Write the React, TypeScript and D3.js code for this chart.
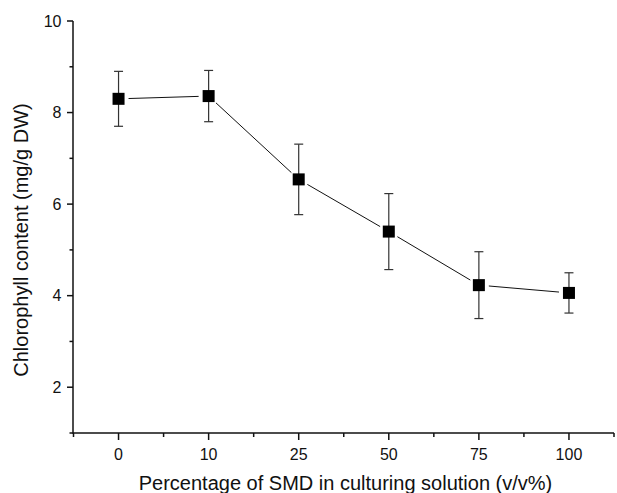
import React from "react";
import * as d3 from "d3";

const categories = ["0", "10", "25", "50", "75", "100"];
const chlorophyll = [8.3, 8.36, 6.54, 5.4, 4.23, 4.06];
const errors = [0.6, 0.56, 0.77, 0.83, 0.73, 0.44];
const yTicks = [2, 4, 6, 8, 10];
const yMinorTicks = [1, 3, 5, 7, 9];

export default function App() {
  const width = 617;
  const height = 493;
  const marginLeft = 73;
  const marginRight = 3;
  const marginTop = 21;
  const marginBottom = 60;
  const font = "Arial, 'Liberation Sans', sans-serif";

  const x = d3
    .scaleLinear()
    .domain([-0.5, categories.length - 0.5])
    .range([marginLeft + 0.5, width - marginRight]);
  const y = d3
    .scaleLinear()
    .domain([1, 10])
    .range([height - marginBottom, marginTop]);

  const bottom = height - marginBottom;
  const pts = chlorophyll.map((v, i) => [x(i), y(v)] as [number, number]);
  const gap = 10;

  // connecting segments stop short of the markers
  const segments = pts.slice(1).map((p, i) => {
    const a = pts[i];
    const dx = p[0] - a[0];
    const dy = p[1] - a[1];
    const len = Math.hypot(dx, dy);
    const ux = dx / len;
    const uy = dy / len;
    return [a[0] + ux * gap, a[1] + uy * gap, p[0] - ux * gap, p[1] - uy * gap];
  });

  const xMinor = d3.range(-0.5, categories.length, 1);

  return (
    <svg
      width={width}
      height={height}
      style={{ position: "absolute", left: 0, top: 0, background: "#fff" }}
    >
      {/* axes */}
      <g stroke="#111" strokeWidth={1.5} fill="none">
        <line x1={marginLeft} x2={marginLeft} y1={marginTop} y2={bottom + 0.75} />
        <line x1={marginLeft} x2={width - marginRight} y1={bottom} y2={bottom} />
        {yTicks.map((t) => (
          <line key={t} x1={marginLeft - 6} x2={marginLeft} y1={y(t)} y2={y(t)} />
        ))}
        {yMinorTicks.map((t) => (
          <line key={t} x1={marginLeft - 3.5} x2={marginLeft} y1={y(t)} y2={y(t)} />
        ))}
        {categories.map((c, i) => (
          <line key={c} x1={x(i)} x2={x(i)} y1={bottom} y2={bottom + 7} />
        ))}
        {xMinor.map((t) => (
          <line key={t} x1={x(t)} x2={x(t)} y1={bottom} y2={bottom + 4} />
        ))}
      </g>
      <g fontFamily={font} fill="#111">
        {yTicks.map((t) => (
          <text key={t} x={marginLeft - 11.5} y={y(t)} dy="0.36em" textAnchor="end" fontSize={16}>
            {t}
          </text>
        ))}
        {categories.map((c, i) => (
          <text key={c} x={x(i)} y={bottom + 27} textAnchor="middle" fontSize={16}>
            {c}
          </text>
        ))}
      </g>
      <text
        x={345.5}
        y={490}
        textAnchor="middle"
        fontFamily={font}
        fontSize={20}
        fill="#111"
      >
        Percentage of SMD in culturing solution (v/v%)
      </text>
      <text
        transform={`translate(28, 240) rotate(-90)`}
        textAnchor="middle"
        fontFamily={font}
        fontSize={20}
        fill="#111"
      >
        Chlorophyll content (mg/g DW)
      </text>

      {/* line */}
      <g stroke="#111" strokeWidth={1}>
        {segments.map((s, i) => (
          <line key={i} x1={s[0]} y1={s[1]} x2={s[2]} y2={s[3]} />
        ))}
      </g>

      {/* error bars */}
      <g stroke="#333" strokeWidth={1.2}>
        {chlorophyll.map((v, i) => (
          <g key={i}>
            <line x1={x(i)} x2={x(i)} y1={y(v + errors[i])} y2={y(v - errors[i])} />
            <line x1={x(i) - 4.5} x2={x(i) + 4.5} y1={y(v + errors[i])} y2={y(v + errors[i])} />
            <line x1={x(i) - 4.5} x2={x(i) + 4.5} y1={y(v - errors[i])} y2={y(v - errors[i])} />
          </g>
        ))}
      </g>

      {/* markers */}
      <g fill="#000">
        {chlorophyll.map((v, i) => (
          <rect key={i} x={x(i) - 6} y={y(v) - 6} width={12} height={12} />
        ))}
      </g>
    </svg>
  );
}
